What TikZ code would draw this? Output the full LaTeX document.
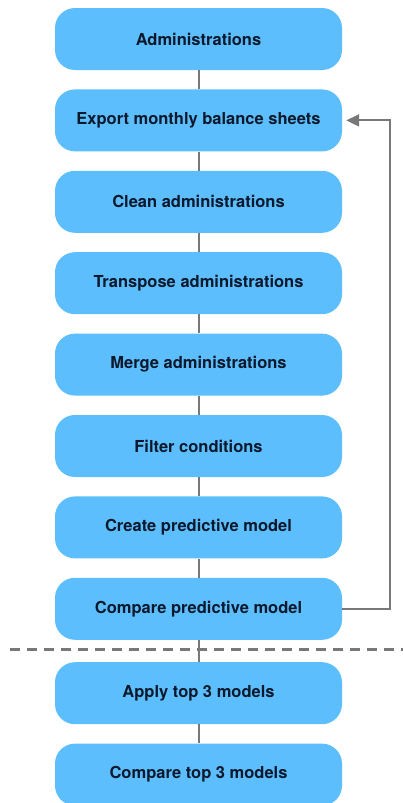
\documentclass[tikz,border=0pt]{standalone}
\usepackage{fontspec}
\setmainfont{TeX Gyre Heros}
\usetikzlibrary{positioning,arrows.meta}

\definecolor{boxblue}{RGB}{92,190,252}
\definecolor{boxtext}{RGB}{12,24,44}
\definecolor{linegray}{RGB}{120,120,120}

\begin{document}
\begin{tikzpicture}[x=1pt,y=1pt,
stepbox/.style={draw=none, fill=boxblue, rounded corners=20pt,
  minimum width=287pt, minimum height=62pt, inner sep=0pt,
  font=\fontsize{16.5}{19}\selectfont\bfseries, text=boxtext},
link/.style={draw=linegray, line width=2pt},
node distance=19pt,
]
\useasboundingbox (0,0) rectangle (403,-803);
\node[stepbox] (admin) at (198.5,-39) {Administrations};
\node[stepbox, below=of admin] (export) {Export monthly balance sheets};
\node[stepbox, below=of export] (clean) {Clean administrations};
\node[stepbox, below=of clean] (transpose) {Transpose administrations};
\node[stepbox, below=of transpose] (merge) {Merge administrations};
\node[stepbox, below=of merge] (filter) {Filter conditions};
\node[stepbox, below=of filter] (create) {Create predictive model};
\node[stepbox, below=of create] (compare) {Compare predictive model};
\node[stepbox, below=22pt of compare] (apply) {Apply top 3 models};
\node[stepbox, below=of apply] (comparetop) {Compare top 3 models};

% connectors
\foreach \a/\b in {admin/export, export/clean, clean/transpose,
  transpose/merge, merge/filter, filter/create, create/compare,
  compare/apply, apply/comparetop}
  \draw[link] (\a.south) -- (\b.north);

% feedback loop
\coordinate (loopx) at (390,0);
\draw[link, -{Triangle[length=13pt,width=12pt]}]
  (compare.east) -- (compare.east -| loopx) |- ([xshift=4pt]export.east);

% dashed separator
\coordinate (sepleft) at (10,-649);
\coordinate (sepright) at (403,-649);
\draw[draw=linegray, line width=3pt, dash pattern=on 10pt off 7pt] (sepleft) -- (sepright);
\end{tikzpicture}
\end{document}
